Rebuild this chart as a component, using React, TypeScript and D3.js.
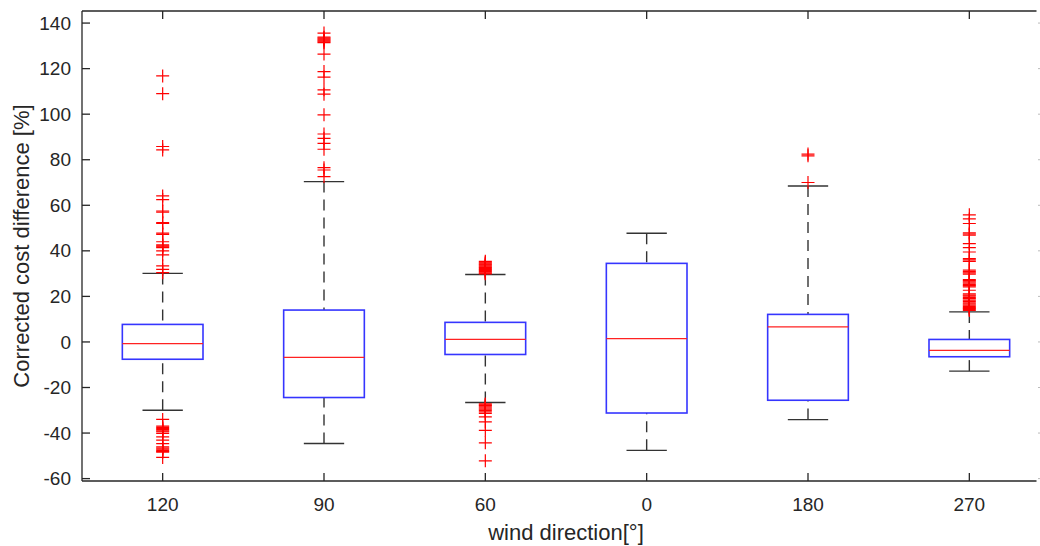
import React, { useEffect, useRef } from 'react';
import * as d3 from 'd3';

// wind direction categories, in plotted order
const categories = ['120', '90', '60', '0', '180', '270'];

// box statistics (%)
const q1 = [-7.6, -24.4, -5.5, -31.2, -25.6, -6.5];
const medians = [-0.7, -6.8, 1.1, 1.5, 6.6, -3.7];
const q3 = [7.7, 14, 8.6, 34.5, 12.1, 1.1];
const whiskerLow = [-30, -44.6, -26.6, -47.6, -34.1, -12.8];
const whiskerHigh = [30.1, 70.4, 29.6, 47.7, 68.5, 13.2];

const outliers120 = [
  116.8, 109, 85.8, 84.3, 64.1, 62.5, 57.5, 57, 52.4, 52, 47.8, 47.2, 44, 42.6, 42.2, 41.8, 41.4, 40,
  38.2, 33.4, 31.9, 30.4, -34, -37, -37.5, -38, -38.5, -39, -39.5, -40.2, -41.7, -43.1, -44.6,
  -46.1, -46.6, -47.1, -47.6, -48.1, -48.4, -50.7,
];
const outliers90 = [
  72.6, 75.5, 76.5, 84.6, 87.2, 89.4, 91.3, 99.7, 108.8, 110.7, 116.3, 118.7, 126.4, 131.4, 131.8,
  132.2, 132.6, 133, 133.4, 133.8, 135.6,
];
const outliers60 = [
  35.4, 35, 34.6, 34.2, 33.8, 33.4, 33, 32.6, 32.2, 31.8, 31.4, 31, 30.6, 30.2, 29.9, -27.2, -27.6,
  -28, -28.5, -29, -29.5, -30, -30.7, -31.4, -32.9, -35.1, -38.8, -44.3, -52.2,
];
const outliers0: number[] = [];
const outliers180 = [82.5, 81.7, 70];
const outliers270 = [
  55.8, 54, 52, 47.9, 47.4, 46.9, 43.2, 41.4, 39.5, 36.6, 36, 35.4, 31.5, 30.9, 30.3, 29.8, 27.4,
  26.9, 26.4, 25.8, 25.2, 24.7, 24.2, 22.7, 21.1, 20.6, 20.1, 19.5, 19, 18.4, 17.8, 17.2, 16.7,
  16.2, 15.6, 15.1, 14.7, 14.3, 13.8,
];
const outliers = [outliers120, outliers90, outliers60, outliers0, outliers180, outliers270];

const yTicks = [-60, -40, -20, 0, 20, 40, 60, 80, 100, 120, 140];

const xTitle = 'wind direction[°]';
const yTitle = 'Corrected cost difference [%]';

const width = 1040;
const height = 546;
const left = 82;
const right = 1050;
const top = 11;
const bottom = 481;
const axisColor = '#262626';
const font = '"Liberation Sans", Arial, Helvetica, sans-serif';

export default function App() {
  const ref = useRef<SVGSVGElement>(null);

  useEffect(() => {
    const svg = d3.select(ref.current);
    svg.selectAll('*').remove();

    const xScale = d3.scaleLinear().domain([0.5, 6.5]).range([left, right]);
    const yScale = d3.scaleLinear().domain([-61.05, 145.3]).range([bottom, top]);

    const boxHalf = xScale(1.25) - xScale(1);
    const capHalf = xScale(1.125) - xScale(1);

    const g = svg.append('g');

    categories.forEach((c, i) => {
      const cx = xScale(i + 1);

      // dashed whiskers
      g.append('line')
        .attr('x1', cx).attr('x2', cx)
        .attr('y1', yScale(whiskerHigh[i])).attr('y2', yScale(q3[i]))
        .attr('stroke', '#333').attr('stroke-width', 1.4).attr('stroke-dasharray', '11,7');
      g.append('line')
        .attr('x1', cx).attr('x2', cx)
        .attr('y1', yScale(whiskerLow[i])).attr('y2', yScale(q1[i]))
        .attr('stroke', '#333').attr('stroke-width', 1.4).attr('stroke-dasharray', '11,7');

      // caps
      [whiskerHigh[i], whiskerLow[i]].forEach((v) => {
        g.append('line')
          .attr('x1', cx - capHalf).attr('x2', cx + capHalf)
          .attr('y1', yScale(v)).attr('y2', yScale(v))
          .attr('stroke', '#333').attr('stroke-width', 1.4);
      });

      // box
      g.append('rect')
        .attr('x', cx - boxHalf)
        .attr('y', yScale(q3[i]))
        .attr('width', boxHalf * 2)
        .attr('height', yScale(q1[i]) - yScale(q3[i]))
        .attr('fill', 'none')
        .attr('stroke', '#3535ff')
        .attr('stroke-width', 1.6);

      // median
      g.append('line')
        .attr('x1', cx - boxHalf).attr('x2', cx + boxHalf)
        .attr('y1', yScale(medians[i])).attr('y2', yScale(medians[i]))
        .attr('stroke', '#f22').attr('stroke-width', 1.2);

      // outliers as '+'
      outliers[i].forEach((v) => {
        const y = yScale(v);
        g.append('path')
          .attr('d', `M${cx - 6.5},${y}H${cx + 6.5}M${cx},${y - 6.5}V${y + 6.5}`)
          .attr('stroke', '#f00')
          .attr('stroke-width', 1.2)
          .attr('fill', 'none');
      });
    });

    // frame
    const frameRight = 1036.5;
    const frame = svg.append('g').attr('stroke', axisColor).attr('stroke-width', 1.3);
    frame.append('line').attr('x1', left).attr('x2', left).attr('y1', top).attr('y2', bottom);
    frame.append('line').attr('x1', left).attr('x2', frameRight).attr('y1', bottom).attr('y2', bottom);
    frame.append('line').attr('x1', left).attr('x2', frameRight).attr('y1', top).attr('y2', top);

    // y ticks and labels
    yTicks.forEach((t) => {
      const y = yScale(t);
      frame.append('line').attr('x1', left).attr('x2', left + 8).attr('y1', y).attr('y2', y);
      svg.append('line')
        .attr('x1', 1038).attr('x2', 1040).attr('y1', y).attr('y2', y)
        .attr('stroke', '#bbb').attr('stroke-width', 1);
      svg.append('text')
        .attr('x', left - 11)
        .attr('y', y)
        .attr('dy', '0.35em')
        .attr('text-anchor', 'end')
        .attr('font-family', font)
        .attr('font-size', 19)
        .attr('fill', axisColor)
        .text(t);
    });

    // x ticks and labels
    categories.forEach((c, i) => {
      const x = xScale(i + 1);
      frame.append('line').attr('x1', x).attr('x2', x).attr('y1', bottom).attr('y2', bottom - 8);
      frame.append('line').attr('x1', x).attr('x2', x).attr('y1', top).attr('y2', top + 8);
      svg.append('text')
        .attr('x', x)
        .attr('y', 511)
        .attr('text-anchor', 'middle')
        .attr('font-family', font)
        .attr('font-size', 19)
        .attr('fill', axisColor)
        .text(c);
    });

    // axis titles
    svg.append('text')
      .attr('x', (left + right) / 2)
      .attr('y', 540)
      .attr('text-anchor', 'middle')
      .attr('font-family', font)
      .attr('font-size', 22)
      .attr('fill', axisColor)
      .text(xTitle);

    svg.append('text')
      .attr('transform', `translate(29, ${(top + bottom) / 2}) rotate(-90)`)
      .attr('text-anchor', 'middle')
      .attr('font-family', font)
      .attr('font-size', 22)
      .attr('fill', axisColor)
      .text(yTitle);
  }, []);

  return (
    <svg
      ref={ref}
      width={width}
      height={height}
      style={{ position: 'absolute', left: 0, top: 0, background: '#fff', display: 'block' }}
    />
  );
}
